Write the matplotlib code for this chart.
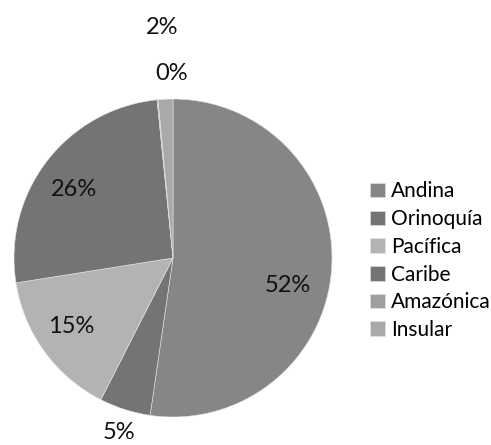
import matplotlib
matplotlib.use("Agg")
import matplotlib.pyplot as plt

regiones = ["Andina", "Orinoquía", "Pacífica", "Caribe", "Amazónica", "Insular"]
valores = [52.3, 5.2, 15.0, 25.9, 0.1, 1.5]
etiquetas = ["52%", "5%", "15%", "26%", "0%", "2%"]
colores = ["#868686", "#747474", "#b3b3b3", "#747474", "#9f9f9f", "#a9a9a9"]

plt.rcParams["font.family"] = ["Lato", "DejaVu Sans"]

fig = plt.figure(figsize=(4.91, 4.45), dpi=100)
W, H = 491, 445
cx, cy, r = 173, 258, 159
ax = fig.add_axes([(cx - r) / W, (H - cy - r) / H, 2 * r / W, 2 * r / H])

wedges, _ = ax.pie(valores, colors=colores, startangle=90, counterclock=False,
                   radius=1, wedgeprops=dict(edgecolor="#e6e6e6", linewidth=0.4))
ax.set_xlim(-1, 1)
ax.set_ylim(-1, 1)
ax.set_aspect("equal")
ax.axis("off")

# posiciones de las etiquetas (unidades del radio)
pos = [(0.72, -0.17), (-0.34, -1.10), (-0.64, -0.43),
       (-0.62, 0.43), (-0.01, 1.16), (-0.07, 1.45)]
for (x, y), t in zip(pos, etiquetas):
    ax.text(x, y, t, ha="center", va="center", fontsize=17,
            color="#111111", clip_on=False)

fig.legend(wedges, regiones, loc="upper left",
           bbox_to_anchor=(360 / W, 1 - 171 / H), frameon=False,
           fontsize=15, handlelength=0.7, handleheight=0.7,
           handletextpad=0.3, labelspacing=0.37, borderpad=0)

fig.savefig("out.png", dpi=100)
